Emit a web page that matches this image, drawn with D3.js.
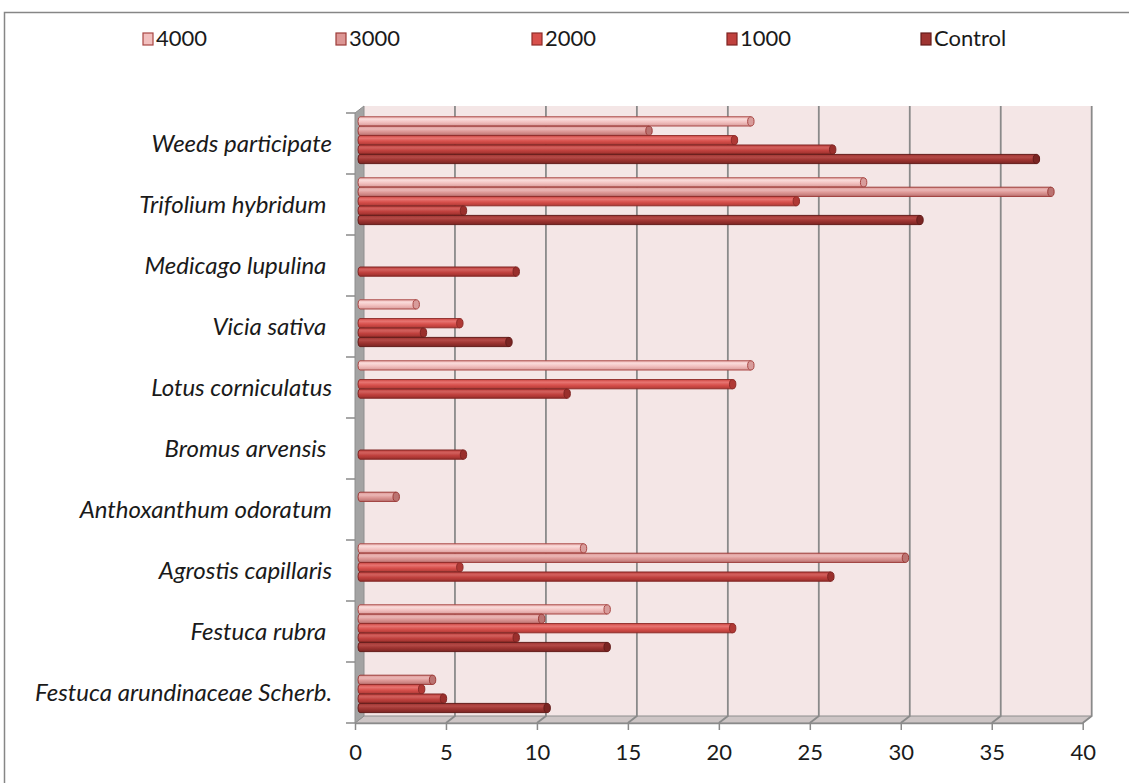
<!DOCTYPE html>
<html>
<head>
<meta charset="utf-8">
<script src="https://cdn.jsdelivr.net/npm/d3@7"></script>
<style>
  html, body { margin: 0; padding: 0; background: #ffffff; }
  svg { display: block; }
  text { font-family: Lato, "Open Sans", sans-serif; fill: #1a1a1a; }
</style>
</head>
<body>
<svg id="chart" width="1129" height="783"></svg>
<script>
// ---------- data ----------
const categories = [
  "Weeds participate",
  "Trifolium hybridum ",
  "Medicago lupulina ",
  "Vicia sativa ",
  "Lotus corniculatus",
  "Bromus arvensis ",
  "Anthoxanthum odoratum",
  "Agrostis capillaris",
  "Festuca rubra ",
  "Festuca arundinaceae Scherb."
];
const seriesNames = ["4000", "3000", "2000", "1000", "Control"];
const s4000    = [21.6, 27.8, 0,   3.2, 21.6, 0,   0,   12.4, 13.7, 0   ];
const s3000    = [16.0, 38.1, 0,   0,   0,    0,   2.1, 30.1, 10.1, 4.1 ];
const s2000    = [20.7, 24.1, 0,   5.6, 20.6, 0,   0,   5.6,  20.6, 3.5 ];
const s1000    = [26.1, 5.8,  8.7, 3.6, 11.5, 5.8, 0,   26.0, 8.7,  4.7 ];
const sControl = [37.3, 30.9, 0,   8.3, 0,    0,   0,   0,    13.7, 10.4];
const xTicks = [0, 5, 10, 15, 20, 25, 30, 35, 40];

const seriesValues = [s4000, s3000, s2000, s1000, sControl];
const colors = {
  "4000":    {base: "#f2c0bf", light: "#f9d9d8", dark: "#d89c9b", edge: "#a94744"},
  "3000":    {base: "#dc9694", light: "#ebb7b6", dark: "#bb7371", edge: "#9c3b38"},
  "2000":    {base: "#d8504c", light: "#e67370", dark: "#b03935", edge: "#8f2c29"},
  "1000":    {base: "#c0413e", light: "#d2605d", dark: "#9a2f2c", edge: "#7e2422"},
  "Control": {base: "#9e3431", light: "#b44a47", dark: "#7a2523", edge: "#641c1a"}
};

// ---------- layout ----------
const svg = d3.select("#chart");
const depthDx = 9, depthDy = -7;
const yTop = 113, yBottom = 723;

const xFront = d3.scaleLinear().domain([0, 40]).range([355, 1082.7]);
const xBar   = d3.scaleLinear().domain([0, 40]).range([358, 1085.5]);
const xBack  = v => xFront(v) + depthDx;

const yBand = d3.scaleBand().domain(categories).range([yTop, yBottom]).padding(0);
const ySeries = d3.scaleBand().domain(seriesNames).range([3.8, 50.8]).padding(0);

// outer border
svg.append("rect")
  .attr("x", 4.5).attr("y", 12.5).attr("width", 1140).attr("height", 800)
  .attr("fill", "#ffffff").attr("stroke", "#868686").attr("stroke-width", 1.5);

// gradients
const defs = svg.append("defs");
seriesNames.forEach((s, i) => {
  const c = colors[s];
  const g = defs.append("linearGradient").attr("id", "grad" + i)
    .attr("x1", 0).attr("y1", 0).attr("x2", 0).attr("y2", 1);
  g.append("stop").attr("offset", "0%").attr("stop-color", c.base);
  g.append("stop").attr("offset", "30%").attr("stop-color", c.light);
  g.append("stop").attr("offset", "60%").attr("stop-color", c.base);
  g.append("stop").attr("offset", "100%").attr("stop-color", c.dark);
});

// back wall
const wallTop = yTop + depthDy;
const wallBottom = yBottom + depthDy;
svg.append("rect")
  .attr("x", xBack(0)).attr("y", wallTop)
  .attr("width", xBack(40) - xBack(0)).attr("height", wallBottom - wallTop)
  .attr("fill", "#f4e6e6");

// floor
svg.append("path")
  .attr("d", `M${xFront(0)},${yBottom} L${xFront(40)},${yBottom} L${xBack(40)},${wallBottom} L${xBack(0)},${wallBottom} Z`)
  .attr("fill", "#cdc5c5").attr("stroke", "#8e8e8e").attr("stroke-width", 1);

// left side wall
svg.append("path")
  .attr("d", `M${xFront(0)},${yTop} L${xBack(0)},${wallTop} L${xBack(0)},${wallBottom} L${xFront(0)},${yBottom} Z`)
  .attr("fill", "#a3a3a3").attr("stroke", "#8e8e8e").attr("stroke-width", 1);

// gridlines on back wall + floor
const grid = svg.append("g").attr("stroke", "#8a8a8a").attr("stroke-width", 1.8).attr("fill", "none");
xTicks.filter(v => v > 0).forEach(v => {
  grid.append("path")
    .attr("d", `M${xBack(v)},${wallTop} L${xBack(v)},${wallBottom} L${xFront(v)},${yBottom}`);
});

// left axis ticks
const yTickPos = categories.map(c => yBand(c)).concat([yBottom]);
svg.append("g").selectAll("line").data(yTickPos).join("line")
  .attr("x1", xFront(0) - 9).attr("x2", xFront(0))
  .attr("y1", d => d).attr("y2", d => d)
  .attr("stroke", "#8a8a8a").attr("stroke-width", 1.5);

// category labels
svg.append("g").selectAll("text").data(categories).join("text")
  .attr("x", 332)
  .attr("y", d => yBand(d) + yBand.bandwidth() / 2 + 2)
  .attr("text-anchor", "end")
  .attr("dominant-baseline", "middle")
  .style("white-space", "pre")
  .attr("font-style", "italic")
  .attr("font-size", 24)
  .text(d => d);

// bars
const barsG = svg.append("g");
categories.forEach((cat, ci) => {
  seriesNames.forEach((s, si) => {
    const v = seriesValues[si][ci];
    if (!v) return;
    const c = colors[s];
    const y0 = yBand(cat) + ySeries(s);
    const h = ySeries.bandwidth() - 0.2;
    const ry = h / 2;
    const rx = 3.2, rl = 2;
    const x0 = xBar(0), x1 = xBar(v);
    barsG.append("path")
      .attr("d", `M${x0 + rl},${y0} L${x1},${y0} L${x1},${y0 + h} L${x0 + rl},${y0 + h} A${rl},${ry} 0 0 1 ${x0 + rl},${y0} Z`)
      .attr("fill", `url(#grad${si})`)
      .attr("stroke", c.edge).attr("stroke-width", 1);
    barsG.append("ellipse")
      .attr("cx", x1).attr("cy", y0 + ry).attr("rx", rx).attr("ry", ry)
      .attr("fill", c.dark).attr("stroke", c.edge).attr("stroke-width", 1);
  });
});

// bottom axis
const axis = d3.axisBottom(xFront).tickValues(xTicks).tickSize(7).tickPadding(14).tickSizeOuter(0);
const axG = svg.append("g").attr("transform", `translate(0,${yBottom})`).call(axis);
axG.select(".domain").attr("stroke", "#8a8a8a").attr("stroke-width", 1.5);
axG.selectAll(".tick line").attr("stroke", "#8a8a8a").attr("stroke-width", 1.5);
axG.selectAll(".tick text")
  .attr("font-family", "Lato, 'Open Sans', sans-serif")
  .attr("font-size", 22).attr("fill", "#1a1a1a");

// legend
const legendX = d3.scaleOrdinal().domain(seriesNames).range([143, 336, 532, 727, 921]);
const lg = svg.append("g");
seriesNames.forEach((s, si) => {
  const c = colors[s];
  const gx = legendX(s);
  lg.append("rect")
    .attr("x", gx).attr("y", 33).attr("width", 10).attr("height", 12)
    .attr("fill", c.base).attr("stroke", c.edge).attr("stroke-width", 1.2);
  lg.append("text")
    .attr("x", gx + 13).attr("y", 40)
    .attr("dominant-baseline", "middle")
    .attr("font-size", 22)
    .text(s);
});
</script>
</body>
</html>
